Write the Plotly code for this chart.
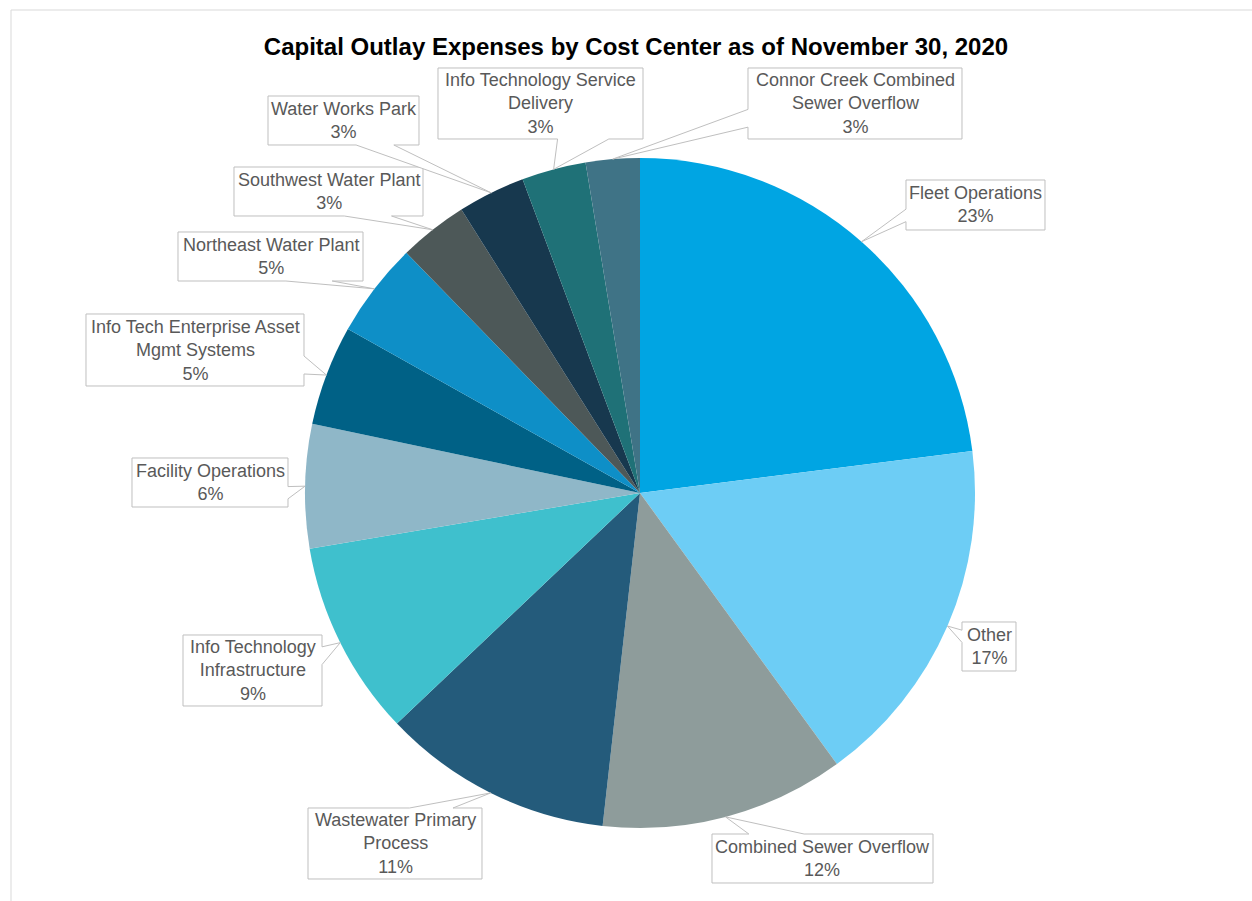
import numpy as np
import plotly.graph_objects as go

W, H = 1252, 901

# slice data, clockwise from 12 o'clock
centers = ["Fleet Operations", "Other", "Combined Sewer Overflow",
           "Wastewater Primary Process", "Info Technology Infrastructure",
           "Facility Operations", "Info Tech Enterprise Asset Mgmt Systems",
           "Northeast Water Plant", "Southwest Water Plant", "Water Works Park",
           "Info Technology Service Delivery", "Connor Creek Combined Sewer Overflow"]
shares = [23.0, 17.0, 11.78, 11.14, 9.42, 5.97, 4.83, 4.58, 3.33, 3.25, 3.1, 2.6]
label_text = ["Fleet Operations", "Other", "Combined Sewer Overflow",
              "Wastewater Primary<br>Process", "Info Technology<br>Infrastructure",
              "Facility Operations", "Info Tech Enterprise Asset<br>Mgmt Systems",
              "Northeast Water Plant", "Southwest Water Plant", "Water Works Park",
              "Info Technology Service<br>Delivery", "Connor Creek Combined<br>Sewer Overflow"]
colors = ["#00A5E3", "#6DCDF5", "#8E9C9B", "#245B7B", "#3FC0CD", "#8FB7C8",
          "#006186", "#0E8FC7", "#4D5858", "#17384E", "#1F7177", "#3F7386"]

# label boxes in pixels (x0, y0, x1, y1)
boxes = [(906, 180, 1045, 230), (962, 622, 1016, 671), (712, 834, 933, 883),
         (308, 808, 482, 879), (183, 635, 322, 706), (132, 458, 288, 507),
         (86, 314, 304, 386), (178, 232, 363, 281), (234, 167, 423, 216),
         (268, 96, 419, 145), (438, 68, 643, 139), (748, 68, 962, 139)]

cx, cy, R = 640, 493, 335
FONT = "Liberation Sans, Arial"


def px(x, y):
    return x / W, 1 - y / H


def callout_path(box, tx, ty):
    # rectangle with a wedge pointing at (tx, ty), like a spreadsheet callout label
    x0, y0, x1, y1 = box
    w, h = x1 - x0, y1 - y0
    hc, vc = (x0 + x1) / 2, (y0 + y1) / 2
    dxp, dyp = tx - hc, ty - vc
    dq = dxp * h / w
    if abs(dyp) - abs(dq) > 0:
        g1, g2 = (7, 10) if tx > hc else (2, 5)
        xa, xb = x0 + w * g1 / 12, x0 + w * g2 / 12
        if ty < vc:
            pts = [(x0, y0), (xa, y0), (tx, ty), (xb, y0), (x1, y0), (x1, y1), (x0, y1)]
        else:
            pts = [(x0, y0), (x1, y0), (x1, y1), (xb, y1), (tx, ty), (xa, y1), (x0, y1)]
    else:
        g1, g2 = (7, 10) if ty > vc else (2, 5)
        ya, yb = y0 + h * g1 / 12, y0 + h * g2 / 12
        if tx < hc:
            pts = [(x0, y0), (x1, y0), (x1, y1), (x0, y1), (x0, yb), (tx, ty), (x0, ya)]
        else:
            pts = [(x0, y0), (x1, y0), (x1, ya), (tx, ty), (x1, yb), (x1, y1), (x0, y1)]
    s = ""
    for i, (x, y) in enumerate(pts):
        u, v = px(x, y)
        s += ("M" if i == 0 else " L") + f" {u:.5f},{v:.5f}"
    return s + " Z"


fig = go.Figure(go.Pie(
    labels=centers, values=shares, sort=False, direction="clockwise", rotation=0,
    marker=dict(colors=colors, line=dict(width=0)),
    textinfo="none", hoverinfo="label+percent", showlegend=False,
    domain=dict(x=[(cx - R) / W, (cx + R) / W], y=[1 - (cy + R) / H, 1 - (cy - R) / H]),
))

total = sum(shares)
cum = np.cumsum([0] + shares[:-1])
shapes = [dict(type="rect", xref="paper", yref="paper", x0=11 / W, x1=1.1, y0=-0.1, y1=1 - 10 / H,
               line=dict(color="#D9D9D9", width=1), fillcolor="rgba(0,0,0,0)", layer="below")]
annotations = []
for i in range(len(shares)):
    mid = 2 * np.pi * (cum[i] + shares[i] / 2) / total
    tx, ty = cx + R * np.sin(mid), cy - R * np.cos(mid)
    shapes.append(dict(type="path", xref="paper", yref="paper",
                       path=callout_path(boxes[i], tx, ty),
                       line=dict(color="#BFBFBF", width=1), fillcolor="white"))
    x0, y0, x1, y1 = boxes[i]
    u, v = px((x0 + x1) / 2, (y0 + y1) / 2)
    annotations.append(dict(x=u, y=v, xref="paper", yref="paper", showarrow=False,
                            text=f"{label_text[i]}<br>{round(shares[i] / total * 100):.0f}%",
                            font=dict(family=FONT, size=18, color="#595959"),
                            xanchor="center", yanchor="middle", align="center"))

fig.update_layout(
    width=W, height=H, margin=dict(l=0, r=0, t=0, b=0),
    paper_bgcolor="white", plot_bgcolor="white",
    title=dict(text="<b>Capital Outlay Expenses by Cost Center as of November 30, 2020</b>",
               x=636 / W, xanchor="center", y=1 - 47 / H, yanchor="middle",
               font=dict(family=FONT, size=24, color="#000000")),
    shapes=shapes, annotations=annotations,
)

fig.write_html("out.html", config={"displayModeBar": False},
               post_script="document.body.style.margin='0';")
